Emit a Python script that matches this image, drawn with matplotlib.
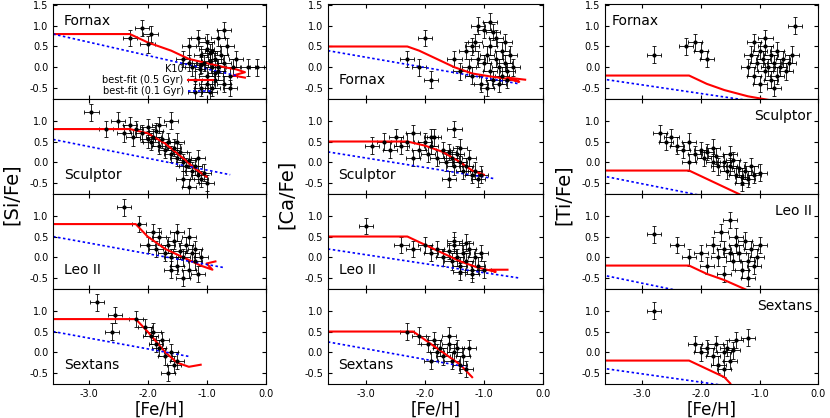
import numpy as np
import matplotlib.pyplot as plt

# observed points (K10) per element / galaxy : [Fe/H], [X/Fe]
si_fornax_fe = [-2.3, -2.1, -2.0, -1.95, -1.4, -1.3, -1.25, -1.2, -1.15, -1.1, -1.1, -1.05, -1.0, -1.0, -0.95, -0.95,
                -0.9, -0.9, -0.85, -0.85, -0.8, -0.8, -0.75, -0.7, -0.7, -0.65, -0.6, -0.55, -0.5, -1.2, -1.0, -0.9,
                -0.8, -1.1, -0.95, -0.7, -1.3, -0.6, -0.3, -0.15, -1.0, -0.85]
si_fornax_x = [0.7, 0.95, 0.55, 0.8, 0.2, 0.5, 0.0, -0.3, 0.7, 0.3, -0.5, 0.1, 0.6, -0.2, 0.35, -0.6, 0.0, 0.4,
               -0.3, 0.2, 0.7, -0.1, 0.3, -0.4, 0.1, 0.5, -0.2, 0.0, 0.2, -0.6, -0.4, -0.5, 0.0, 0.05, 0.15, 0.9,
               0.1, -0.5, 0.0, 0.0, 0.45, -0.15]
si_sculptor_fe = [-2.95, -2.7, -2.5, -2.4, -2.3, -2.25, -2.2, -2.1, -2.0, -1.95, -1.9, -1.85, -1.8, -1.75, -1.7,
                  -1.65, -1.6, -1.55, -1.5, -1.45, -1.4, -1.35, -1.3, -1.25, -1.2, -1.15, -1.1, -1.05, -1.0, -1.6,
                  -1.8, -2.0, -1.4, -1.3, -1.15, -1.5]
si_sculptor_x = [1.2, 0.8, 1.0, 0.7, 0.9, 0.6, 0.8, 0.7, 0.85, 0.5, 0.6, 0.75, 0.4, 0.55, 0.3, 0.5, 0.2, 0.35, 0.1,
                 0.25, 0.0, -0.1, 0.05, -0.2, -0.1, -0.3, -0.4, -0.25, -0.5, 1.0, 0.9, 0.55, -0.4, -0.6, 0.1, 0.5]
si_leo_fe = [-2.4, -2.15, -2.0, -1.9, -1.85, -1.8, -1.7, -1.65, -1.6, -1.55, -1.5, -1.45, -1.4, -1.35, -1.3, -1.25,
             -1.2, -1.15, -1.1, -1.5, -1.6, -1.3, -1.4, -1.2]
si_leo_x = [1.2, 0.8, 0.3, 0.6, 0.2, 0.5, 0.1, 0.3, 0.0, 0.4, -0.2, 0.15, 0.0, 0.3, -0.3, 0.1, -0.1, -0.4, 0.0,
            0.6, -0.3, 0.5, -0.5, 0.2]
si_sextans_fe = [-2.85, -2.55, -2.6, -2.2, -2.05, -1.95, -1.85, -1.8, -1.75, -1.7, -1.6, -1.55, -1.5, -1.9, -1.65]
si_sextans_x = [1.2, 0.9, 0.5, 0.8, 0.6, 0.4, 0.2, 0.1, 0.3, -0.1, 0.0, -0.3, -0.2, 0.5, -0.5]

ca_fornax_fe = [-2.3, -2.1, -2.0, -1.9, -1.5, -1.3, -1.25, -1.2, -1.15, -1.1, -1.05, -1.0, -1.0, -0.95, -0.9, -0.9,
                -0.85, -0.8, -0.8, -0.75, -0.7, -0.7, -0.65, -0.6, -0.55, -0.5, -1.1, -0.95, -0.85, -0.75, -1.2,
                -0.65, -0.9, -1.4, -0.6]
ca_fornax_x = [0.2, 0.0, 0.7, -0.3, 0.2, 0.4, 0.0, -0.2, 0.6, 0.2, -0.4, 0.1, 0.9, 0.3, -0.1, 0.5, -0.3, 0.2, 0.7,
               0.0, -0.2, 0.4, 0.1, -0.1, 0.3, 0.0, 1.0, -0.5, 0.85, -0.4, 0.5, 0.6, 1.1, -0.1, -0.3]
ca_sculptor_fe = [-2.9, -2.7, -2.6, -2.5, -2.4, -2.3, -2.2, -2.1, -2.0, -1.95, -1.9, -1.85, -1.8, -1.7, -1.65, -1.6,
                  -1.55, -1.5, -1.45, -1.4, -1.35, -1.3, -1.25, -1.2, -1.15, -1.1, -1.05, -2.2, -1.9, -1.6, -1.4,
                  -1.5]
ca_sculptor_x = [0.4, 0.5, 0.3, 0.6, 0.4, 0.5, 0.7, 0.3, 0.5, 0.2, 0.4, 0.6, 0.1, 0.3, 0.0, 0.25, 0.1, -0.1, 0.2,
                 0.0, -0.2, -0.1, 0.1, -0.3, -0.2, -0.4, -0.3, 0.1, 0.6, -0.4, 0.35, 0.8]
ca_leo_fe = [-3.0, -2.4, -2.2, -2.0, -1.9, -1.8, -1.7, -1.6, -1.55, -1.5, -1.45, -1.4, -1.35, -1.3, -1.25, -1.2,
             -1.15, -1.1, -1.05, -1.0, -1.5, -1.3, -1.2, -1.4]
ca_leo_x = [0.75, 0.3, 0.2, 0.3, 0.1, 0.2, 0.0, 0.15, -0.1, 0.3, 0.0, -0.2, 0.1, -0.1, 0.2, -0.3, 0.0, -0.2, 0.1,
            -0.3, 0.4, 0.35, -0.4, -0.35]
ca_sextans_fe = [-2.3, -2.1, -1.95, -1.85, -1.8, -1.75, -1.7, -1.6, -1.55, -1.5, -1.45, -1.4, -1.35, -1.3, -1.6,
                 -1.9, -1.25]
ca_sextans_x = [0.5, 0.4, 0.2, 0.3, 0.0, 0.1, -0.1, 0.2, -0.2, 0.0, 0.1, -0.3, -0.1, -0.4, 0.4, -0.2, 0.1]

ti_fornax_fe = [-2.8, -2.25, -2.1, -2.0, -1.9, -1.2, -1.15, -1.1, -1.05, -1.0, -1.0, -0.95, -0.9, -0.9, -0.85, -0.8,
                -0.8, -0.75, -0.7, -0.7, -0.65, -0.6, -0.55, -0.5, -1.1, -0.9, -0.75, -0.45, -0.4]
ti_fornax_x = [0.3, 0.5, 0.6, 0.4, 0.2, 0.0, 0.3, -0.2, 0.1, 0.4, -0.4, 0.2, -0.1, 0.5, 0.0, 0.3, -0.3, 0.1, -0.2,
               0.4, 0.0, 0.2, -0.1, 0.1, 0.6, 0.7, -0.5, 0.3, 1.0]
ti_sculptor_fe = [-2.7, -2.6, -2.5, -2.4, -2.3, -2.2, -2.1, -2.0, -1.95, -1.9, -1.8, -1.75, -1.7, -1.6, -1.55, -1.5,
                  -1.45, -1.4, -1.35, -1.3, -1.25, -1.2, -1.1, -1.0, -2.2, -1.8, -1.5, -1.3, -1.15]
ti_sculptor_x = [0.7, 0.5, 0.6, 0.4, 0.3, 0.5, 0.2, 0.3, 0.1, 0.25, 0.0, 0.15, -0.1, 0.0, -0.2, -0.1, 0.05, -0.3,
                 -0.15, -0.35, -0.2, -0.4, -0.3, -0.25, 0.0, 0.35, 0.2, -0.5, -0.1]
ti_leo_fe = [-2.8, -2.4, -2.2, -2.0, -1.9, -1.8, -1.7, -1.65, -1.6, -1.5, -1.45, -1.4, -1.35, -1.3, -1.25, -1.2,
             -1.15, -1.1, -1.05, -1.0, -1.6, -1.4, -1.2, -1.5]
ti_leo_x = [0.55, 0.3, 0.0, 0.1, -0.2, 0.3, 0.0, 0.6, 0.2, 0.9, -0.1, 0.3, 0.1, -0.3, 0.4, -0.1, 0.2, -0.2, 0.0,
            0.3, -0.4, 0.5, -0.5, 0.1]
ti_sextans_fe = [-2.8, -2.1, -2.0, -1.9, -1.8, -1.75, -1.7, -1.6, -1.55, -1.5, -1.4, -1.2, -1.6, -1.45]
ti_sextans_x = [1.0, 0.2, 0.0, 0.1, -0.1, 0.2, -0.3, 0.0, 0.1, -0.2, 0.3, 0.35, -0.4, 0.05]

# model tracks (0.5 Gyr red, 0.1 Gyr blue dotted)
si_red = [
    ([-3.6, -2.3, -2.0, -1.6, -1.3, -1.0, -0.7, -0.5, -0.35, -0.55, -0.35],
     [0.8, 0.8, 0.6, 0.4, 0.2, 0.1, 0.0, -0.05, -0.12, -0.2, -0.25]),
    ([-3.6, -2.3, -2.0, -1.7, -1.4, -1.2, -1.0], [0.8, 0.8, 0.7, 0.45, 0.1, -0.15, -0.35]),
    ([-3.6, -2.2, -2.0, -1.7, -1.4, -1.1, -0.9, -1.0, -0.85], [0.8, 0.8, 0.5, 0.2, 0.0, -0.2, -0.3, -0.15, -0.1]),
    ([-3.6, -2.2, -2.0, -1.7, -1.5, -1.3, -1.1], [0.8, 0.8, 0.5, 0.0, -0.25, -0.35, -0.3]),
]
si_blue = [([-3.6, -0.5], [0.8, -0.2]), ([-3.6, -0.6], [0.55, -0.3]), ([-3.6, -0.7], [0.5, -0.25]),
           ([-3.6, -1.3], [0.5, -0.1])]
ca_red = [
    ([-3.65, -2.3, -2.1, -1.8, -1.5, -1.2, -0.9, -0.6, -0.4, -0.6, -0.3],
     [0.5, 0.5, 0.4, 0.2, 0.0, -0.15, -0.22, -0.28, -0.35, -0.25, -0.3]),
    ([-3.65, -2.3, -2.0, -1.7, -1.4, -1.2, -1.0], [0.5, 0.5, 0.4, 0.25, 0.0, -0.2, -0.3]),
    ([-3.65, -2.3, -2.0, -1.7, -1.4, -1.1, -0.8, -0.9, -0.6], [0.5, 0.5, 0.3, 0.1, -0.1, -0.25, -0.35, -0.3, -0.3]),
    ([-3.65, -2.2, -2.0, -1.7, -1.4, -1.2], [0.5, 0.5, 0.3, 0.0, -0.3, -0.6]),
]
ca_blue = [([-3.65, -0.4], [0.4, -0.4]), ([-3.65, -0.8], [0.25, -0.4]), ([-3.65, -0.4], [0.2, -0.5]),
           ([-3.65, -1.3], [0.25, -0.35])]
ti_red = [
    ([-3.6, -2.2, -1.9, -1.6, -1.2, -0.8], [-0.2, -0.2, -0.4, -0.55, -0.7, -0.8]),
    ([-3.6, -2.2, -1.9, -1.6, -1.3], [-0.2, -0.2, -0.4, -0.6, -0.8]),
    ([-3.6, -2.2, -1.9, -1.6, -1.2], [-0.2, -0.2, -0.4, -0.55, -0.8]),
    ([-3.6, -2.2, -1.9, -1.6, -1.5], [-0.2, -0.2, -0.4, -0.6, -0.75]),
]
ti_blue = [([-3.6, -1.2], [-0.3, -0.8]), ([-3.6, -2.0], [-0.35, -0.8]), ([-3.6, -2.4], [-0.45, -0.8]),
           ([-3.6, -1.6], [-0.4, -0.8])]

galaxies = ['Fornax', 'Sculptor', 'Leo II', 'Sextans']
elements = ['[Si/Fe]', '[Ca/Fe]', '[Ti/Fe]']
obs = [
    [(si_fornax_fe, si_fornax_x), (si_sculptor_fe, si_sculptor_x), (si_leo_fe, si_leo_x), (si_sextans_fe, si_sextans_x)],
    [(ca_fornax_fe, ca_fornax_x), (ca_sculptor_fe, ca_sculptor_x), (ca_leo_fe, ca_leo_x), (ca_sextans_fe, ca_sextans_x)],
    [(ti_fornax_fe, ti_fornax_x), (ti_sculptor_fe, ti_sculptor_x), (ti_leo_fe, ti_leo_x), (ti_sextans_fe, ti_sextans_x)],
]
reds = [si_red, ca_red, ti_red]
blues = [si_blue, ca_blue, ti_blue]

# label placement (axes coords) per column/row
label_pos = [
    [(0.05, 0.82, 'left'), (0.05, 0.2, 'left'), (0.05, 0.2, 'left'), (0.05, 0.2, 'left')],
    [(0.05, 0.2, 'left'), (0.05, 0.2, 'left'), (0.05, 0.2, 'left'), (0.05, 0.2, 'left')],
    [(0.03, 0.82, 'left'), (0.97, 0.82, 'right'), (0.97, 0.82, 'right'), (0.97, 0.82, 'right')],
]

fig = plt.figure(figsize=(8.3, 4.18), dpi=100)
lefts = [0.064, 0.395, 0.729]
widths = [0.256, 0.259, 0.257]
xlims = [(-3.6, 0.0), (-3.65, 0.0), (-3.63, 0.0)]
row_h = 0.2273
top = 0.990

for c in range(3):
    for r in range(4):
        ax = fig.add_axes([lefts[c], top - (r + 1) * row_h, widths[c], row_h])
        fe, x = obs[c][r]
        h_obs = ax.errorbar(fe, x, xerr=0.12, yerr=0.2, fmt='o', color='black', markersize=2, elinewidth=0.6,
                            capsize=1.5, capthick=0.6)
        h_red, = ax.plot(reds[c][r][0], reds[c][r][1], color='red', lw=1.5)
        h_blue, = ax.plot(blues[c][r][0], blues[c][r][1], color='blue', lw=1.2, linestyle=(0, (1.5, 1.5)))
        ax.set_xlim(*xlims[c])
        ax.set_ylim(-0.77, 1.52)
        ax.set_yticks([-0.5, 0.0, 0.5, 1.0, 1.5] if r == 0 else [-0.5, 0.0, 0.5, 1.0])
        ax.set_xticks([-3.0, -2.0, -1.0, 0.0])
        ax.xaxis.set_major_formatter(plt.FormatStrFormatter('%.1f'))
        ax.yaxis.set_major_formatter(plt.FormatStrFormatter('%.1f'))
        ax.tick_params(direction='in', top=True, right=True, labelsize=7, length=3)
        if r < 3:
            ax.tick_params(labelbottom=False)
        else:
            ax.set_xlabel('[Fe/H]', fontsize=12, labelpad=1)
        lx, ly, ha = label_pos[c][r]
        ax.text(lx, ly, galaxies[r], transform=ax.transAxes, ha=ha, va='center', fontsize=10)
        if c == 0 and r == 0:
            leg = ax.legend([h_obs, h_red, h_blue], ['K10', 'best-fit (0.5 Gyr)', 'best-fit (0.1 Gyr)'],
                            loc='lower left', bbox_to_anchor=(0.2, -0.04), markerfirst=False, frameon=False,
                            fontsize=7, handlelength=2.6, labelspacing=0.1, borderpad=0.2, handletextpad=0.4)
            leg.set_zorder(10)
    fig.text(lefts[c] - 0.05, top - 2 * row_h, elements[c], rotation=90, ha='center', va='center', fontsize=14)

fig.savefig('out.png', dpi=100)
